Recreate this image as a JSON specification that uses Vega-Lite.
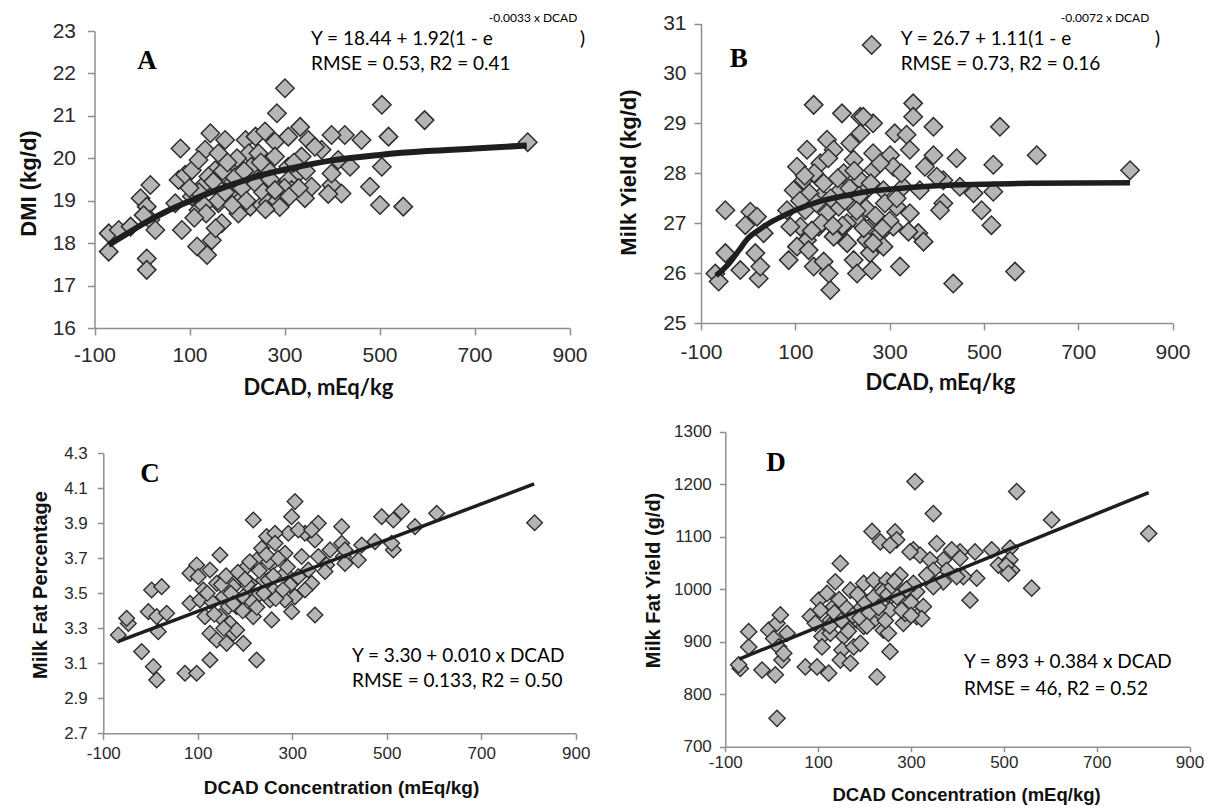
{
"$schema": "https://vega.github.io/schema/vega-lite/v6.json",
"padding": 0,
"background": "white",
"config": {"view": {"stroke": null}, "font": "Liberation Sans",
  "axis": {"grid": false, "labelFlush": false, "labelOverlap": false, "domainColor": "#8f8f8f", "domainWidth": 1.5, "tickColor": "#8f8f8f", "tickWidth": 1.5, "labelColor": "#2a2a2a", "labelFont": "Liberation Sans", "titleColor": "#111111", "titleFontWeight": "bold", "labelExpr": "replace(datum.label, '\u2212', '-')"}},
"datasets": {
"A": [{"x":-70,"y":18.23},{"x":-70,"y":17.8},{"x":-49,"y":18.31},{"x":-24,"y":18.39},{"x":-3,"y":19.06},{"x":17.6,"y":19.37},{"x":10,"y":18.86},{"x":17.6,"y":18.55},{"x":28,"y":18.31},{"x":10,"y":17.64},{"x":10,"y":17.37},{"x":3.5,"y":18.66},{"x":81,"y":20.23},{"x":84,"y":18.31},{"x":77,"y":19.49},{"x":70,"y":18.94},{"x":91,"y":19.61},{"x":116,"y":17.92},{"x":137,"y":17.72},{"x":147,"y":18.07},{"x":144,"y":20.59},{"x":133,"y":20.2},{"x":105,"y":19.72},{"x":119,"y":19.96},{"x":105,"y":19.1},{"x":126,"y":19.33},{"x":154,"y":19.72},{"x":161,"y":18.94},{"x":168,"y":18.47},{"x":175,"y":20.43},{"x":161,"y":20.12},{"x":189,"y":19.41},{"x":203,"y":19.72},{"x":210,"y":19.1},{"x":218,"y":20.43},{"x":225,"y":20.12},{"x":232,"y":19.64},{"x":203,"y":18.7},{"x":228,"y":18.86},{"x":239,"y":20.51},{"x":119,"y":18.78},{"x":182,"y":19.17},{"x":140,"y":19.57},
{"x":301,"y":21.65},{"x":284,"y":21.06},{"x":505,"y":21.26},{"x":595,"y":20.9},{"x":519,"y":20.51},{"x":427,"y":20.55},{"x":462,"y":20.43},{"x":505,"y":19.8},{"x":480,"y":19.33},{"x":501,"y":18.9},{"x":550,"y":18.86},{"x":420,"y":19.17},{"x":399,"y":19.37},{"x":438,"y":19.8},{"x":333,"y":20.74},{"x":350,"y":20.43},{"x":399,"y":20.55},{"x":378,"y":20.2},{"x":259,"y":20.63},{"x":280,"y":20.39},{"x":308,"y":20.51},{"x":357,"y":19.33},{"x":343,"y":19.06},{"x":273,"y":18.94},{"x":252,"y":18.9},{"x":322,"y":19.57},{"x":399,"y":19.64},{"x":308,"y":19.8},{"x":280,"y":20.04},{"x":245,"y":20.12},{"x":336,"y":20.04},{"x":413,"y":19.96},{"x":364,"y":20.27},{"x":280,"y":19.33},{"x":308,"y":19.49},{"x":248,"y":19.49},{"x":266,"y":19.72},{"x":294,"y":19.17},{"x":315,"y":19.25},{"x":812,"y":20.38},{"x":392,"y":19.16},
{"x":160,"y":19.0},{"x":175,"y":19.2},{"x":190,"y":18.9},{"x":210,"y":19.3},{"x":220,"y":19.0},{"x":240,"y":19.4},{"x":255,"y":19.2},{"x":265,"y":18.95},{"x":270,"y":19.5},{"x":285,"y":19.0},{"x":290,"y":18.85},{"x":300,"y":19.3},{"x":310,"y":19.1},{"x":230,"y":19.8},{"x":250,"y":19.9},{"x":195,"y":19.55},{"x":170,"y":19.7},{"x":150,"y":19.45},{"x":130,"y":18.9},{"x":120,"y":19.2},{"x":100,"y":19.3},{"x":135,"y":18.7},{"x":155,"y":18.35},{"x":110,"y":18.6},{"x":260,"y":18.8},{"x":280,"y":19.25},{"x":320,"y":19.9},{"x":330,"y":19.3},{"x":345,"y":19.7},{"x":200,"y":20.0},{"x":215,"y":19.7},{"x":180,"y":19.9}],
"Afit": [{"x":-70,"y":17.96},{"x":-35,"y":18.2},{"x":0,"y":18.44},{"x":50,"y":18.74},{"x":100,"y":18.99},{"x":150,"y":19.22},{"x":200,"y":19.42},{"x":250,"y":19.6},{"x":300,"y":19.73},{"x":400,"y":19.95},{"x":500,"y":20.08},{"x":600,"y":20.17},{"x":700,"y":20.23},{"x":810,"y":20.3}],
"B": [{"x":-69.6,"y":25.99},{"x":-62.5,"y":25.83},{"x":-48.4,"y":27.26},{"x":-48.4,"y":26.4},{"x":-16.6,"y":26.06},{"x":4.6,"y":27.23},{"x":18.8,"y":27.13},{"x":-6,"y":26.96},{"x":15.2,"y":26.4},{"x":22.3,"y":25.89},{"x":32.9,"y":26.8},{"x":25.8,"y":26.13},{"x":139,"y":29.37},{"x":199,"y":29.2},{"x":238,"y":29.13},{"x":86,"y":26.26},{"x":82.4,"y":27.26},{"x":103.6,"y":28.13},{"x":124.8,"y":28.47},{"x":117.7,"y":27.86},{"x":96.5,"y":27.66},{"x":110.7,"y":26.93},{"x":124.8,"y":26.66},{"x":103.6,"y":26.53},{"x":128.3,"y":26.46},{"x":139,"y":26.13},{"x":160.2,"y":26.23},{"x":174.3,"y":25.66},{"x":170.8,"y":25.99},{"x":153.1,"y":28.2},{"x":167.2,"y":28.67},{"x":181.4,"y":28.47},{"x":146,"y":27.93},{"x":153.1,"y":27.53},{"x":167.2,"y":27.2},{"x":188.4,"y":26.8},{"x":216.7,"y":28.6},{"x":223.8,"y":28.27},{"x":202.6,"y":28.0},{"x":195.5,"y":27.66},{"x":223.8,"y":27.33},{"x":230.9,"y":27.06},{"x":238,"y":28.8},{"x":209.6,"y":27.0},{"x":181.4,"y":26.73},{"x":223.8,"y":26.26},{"x":230.9,"y":25.99},{"x":121.3,"y":27.26},{"x":89.5,"y":26.93},{"x":149.6,"y":26.93},{"x":192,"y":27.33},{"x":238,"y":27.86},
{"x":350,"y":29.4},{"x":350,"y":29.13},{"x":265,"y":29.0},{"x":393,"y":28.93},{"x":311,"y":28.8},{"x":336,"y":28.77},{"x":244,"y":29.13},{"x":534,"y":28.93},{"x":612,"y":28.36},{"x":343,"y":28.47},{"x":442,"y":28.3},{"x":520,"y":28.17},{"x":265,"y":28.4},{"x":301,"y":28.36},{"x":393,"y":28.36},{"x":375,"y":28.13},{"x":308,"y":28.13},{"x":265,"y":28.06},{"x":449,"y":27.73},{"x":478,"y":27.6},{"x":520,"y":27.63},{"x":414,"y":27.86},{"x":400,"y":27.93},{"x":364,"y":27.66},{"x":329,"y":27.73},{"x":287,"y":27.66},{"x":414,"y":27.4},{"x":407,"y":27.26},{"x":343,"y":27.2},{"x":495,"y":27.26},{"x":516,"y":26.96},{"x":361,"y":26.8},{"x":340,"y":26.83},{"x":372,"y":26.63},{"x":308,"y":26.93},{"x":280,"y":26.8},{"x":251,"y":26.66},{"x":287,"y":26.53},{"x":322,"y":26.13},{"x":262,"y":26.06},{"x":435,"y":25.79},{"x":566,"y":26.03},{"x":258,"y":26.4},{"x":315,"y":27.33},{"x":273,"y":27.06},{"x":244,"y":27.6},{"x":262,"y":30.57},{"x":810,"y":28.06},
{"x":130,"y":27.6},{"x":145,"y":27.4},{"x":160,"y":27.8},{"x":175,"y":27.5},{"x":190,"y":27.9},{"x":205,"y":27.45},{"x":215,"y":27.7},{"x":235,"y":27.55},{"x":250,"y":27.3},{"x":260,"y":27.8},{"x":270,"y":27.15},{"x":280,"y":28.2},{"x":290,"y":27.4},{"x":300,"y":27.05},{"x":315,"y":27.5},{"x":325,"y":28.0},{"x":140,"y":28.0},{"x":155,"y":27.0},{"x":170,"y":28.3},{"x":200,"y":26.95},{"x":225,"y":28.05},{"x":245,"y":26.9},{"x":265,"y":26.6},{"x":285,"y":26.9},{"x":110,"y":27.45},{"x":120,"y":27.95},{"x":135,"y":26.85},{"x":180,"y":26.95},{"x":210,"y":26.6},{"x":230,"y":27.25}],
"Bfit": [{"x":-68,"y":25.95},{"x":-40,"y":26.2},{"x":-20,"y":26.45},{"x":0,"y":26.7},{"x":25,"y":26.88},{"x":50,"y":27.03},{"x":75,"y":27.15},{"x":100,"y":27.26},{"x":150,"y":27.43},{"x":200,"y":27.54},{"x":250,"y":27.63},{"x":300,"y":27.68},{"x":400,"y":27.75},{"x":500,"y":27.78},{"x":600,"y":27.8},{"x":810,"y":27.81}],
"C": [{"x":-68.2,"y":3.262},{"x":-47,"y":3.328},{"x":-50.6,"y":3.357},{"x":-18.8,"y":3.167},{"x":5.9,"y":3.081},{"x":13,"y":3.005},{"x":2.3,"y":3.519},{"x":23.5,"y":3.538},{"x":-4.7,"y":3.395},{"x":13,"y":3.367},{"x":16.4,"y":3.281},{"x":34.1,"y":3.386},{"x":72.9,"y":3.043},{"x":97.6,"y":3.043},{"x":125.8,"y":3.119},{"x":224.6,"y":3.119},{"x":217.5,"y":3.919},{"x":147,"y":3.719},{"x":83.5,"y":3.614},{"x":97.6,"y":3.662},{"x":101,"y":3.595},{"x":125.8,"y":3.633},{"x":140,"y":3.557},{"x":83.5,"y":3.443},{"x":104.6,"y":3.462},{"x":115.2,"y":3.367},{"x":125.8,"y":3.271},{"x":140,"y":3.233},{"x":161,"y":3.214},{"x":147,"y":3.367},{"x":168.1,"y":3.328},{"x":182.3,"y":3.424},{"x":196.4,"y":3.481},{"x":175.2,"y":3.538},{"x":189.3,"y":3.605},{"x":210.5,"y":3.557},{"x":203.4,"y":3.652},{"x":224.6,"y":3.69},{"x":235.2,"y":3.757},{"x":238.7,"y":3.576},{"x":196.4,"y":3.214},{"x":175.2,"y":3.271},{"x":217.5,"y":3.367},{"x":182.3,"y":3.29},{"x":154,"y":3.481},{"x":111.7,"y":3.519},{"x":164.6,"y":3.424},{"x":224.6,"y":3.481},{"x":245.8,"y":3.824},{"x":252.8,"y":3.462},
{"x":305.8,"y":4.024},{"x":298.7,"y":3.938},{"x":355.2,"y":3.9},{"x":404.6,"y":3.881},{"x":489.3,"y":3.938},{"x":514,"y":3.919},{"x":531.6,"y":3.967},{"x":605.7,"y":3.957},{"x":559.8,"y":3.881},{"x":514,"y":3.748},{"x":510.4,"y":3.786},{"x":475.1,"y":3.795},{"x":447,"y":3.776},{"x":439.9,"y":3.69},{"x":408.1,"y":3.71},{"x":404.6,"y":3.786},{"x":379.9,"y":3.748},{"x":348.1,"y":3.805},{"x":327,"y":3.843},{"x":291.7,"y":3.843},{"x":312.9,"y":3.862},{"x":341,"y":3.862},{"x":263.5,"y":3.843},{"x":263.5,"y":3.786},{"x":284.6,"y":3.729},{"x":319.9,"y":3.71},{"x":355.2,"y":3.71},{"x":372.8,"y":3.662},{"x":411.6,"y":3.671},{"x":312.9,"y":3.595},{"x":284.6,"y":3.614},{"x":256.4,"y":3.671},{"x":334,"y":3.633},{"x":369.3,"y":3.624},{"x":341.1,"y":3.557},{"x":295.2,"y":3.548},{"x":259.9,"y":3.519},{"x":305.8,"y":3.481},{"x":348.1,"y":3.376},{"x":298.7,"y":3.395},{"x":256.4,"y":3.348},{"x":249.4,"y":3.576},{"x":284.6,"y":3.462},{"x":327,"y":3.519},{"x":411.6,"y":3.748},{"x":813,"y":3.903},
{"x":130,"y":3.45},{"x":150,"y":3.55},{"x":160,"y":3.6},{"x":170,"y":3.5},{"x":185,"y":3.62},{"x":195,"y":3.4},{"x":205,"y":3.55},{"x":215,"y":3.45},{"x":230,"y":3.63},{"x":240,"y":3.5},{"x":250,"y":3.68},{"x":260,"y":3.6},{"x":270,"y":3.7},{"x":280,"y":3.52},{"x":290,"y":3.65},{"x":135,"y":3.38},{"x":155,"y":3.3},{"x":175,"y":3.44},{"x":200,"y":3.58},{"x":225,"y":3.42},{"x":245,"y":3.72},{"x":265,"y":3.47},{"x":120,"y":3.5},{"x":210,"y":3.68}],
"Cfit": [{"x":-68,"y":3.225},{"x":812,"y":4.125}],
"D": [{"x":-67.6,"y":849},{"x":-71.2,"y":856},{"x":-49.6,"y":890},{"x":-49.6,"y":919},{"x":-20.9,"y":846},{"x":-6.6,"y":922},{"x":4.2,"y":906},{"x":11.4,"y":935},{"x":15,"y":890},{"x":7.8,"y":837},{"x":22.2,"y":865},{"x":18.6,"y":951},{"x":33,"y":916},{"x":11.4,"y":754},{"x":25.8,"y":878},{"x":72.4,"y":852},{"x":97.6,"y":852},{"x":122.7,"y":840},{"x":83.2,"y":948},{"x":101.2,"y":979},{"x":104.8,"y":960},{"x":94,"y":935},{"x":108.3,"y":910},{"x":108.3,"y":890},{"x":126.3,"y":916},{"x":126.3,"y":941},{"x":137,"y":1014},{"x":147.8,"y":1049},{"x":133.5,"y":967},{"x":147.8,"y":954},{"x":155,"y":910},{"x":151.4,"y":884},{"x":147.8,"y":865},{"x":169.4,"y":859},{"x":176.6,"y":890},{"x":162.2,"y":929},{"x":183.7,"y":941},{"x":169.4,"y":998},{"x":190.9,"y":986},{"x":198.1,"y":1011},{"x":205.3,"y":973},{"x":216.1,"y":1110},{"x":234,"y":1090},{"x":219.7,"y":1017},{"x":234,"y":998},{"x":198.1,"y":929},{"x":219.7,"y":941},{"x":234,"y":954},{"x":190.9,"y":897},{"x":226.8,"y":833},{"x":212.5,"y":967},{"x":187.3,"y":960},{"x":119.1,"y":992},
{"x":308.7,"y":1205},{"x":527.7,"y":1186},{"x":348.2,"y":1144},{"x":603.1,"y":1132},{"x":265.6,"y":1109},{"x":355.4,"y":1087},{"x":438,"y":1071},{"x":473.9,"y":1075},{"x":513.4,"y":1078},{"x":405.6,"y":1071},{"x":387.7,"y":1075},{"x":305.1,"y":1075},{"x":319.5,"y":1065},{"x":269.2,"y":1094},{"x":254.8,"y":1084},{"x":298,"y":1071},{"x":369.7,"y":1056},{"x":341,"y":1056},{"x":405.6,"y":1059},{"x":513.4,"y":1056},{"x":517,"y":1036},{"x":488.2,"y":1046},{"x":441.6,"y":1021},{"x":412.8,"y":1024},{"x":376.9,"y":1036},{"x":348.2,"y":1036},{"x":333.8,"y":1027},{"x":369.7,"y":1014},{"x":398.5,"y":1024},{"x":560,"y":1002},{"x":427.2,"y":979},{"x":276.4,"y":1027},{"x":247.7,"y":1017},{"x":276.4,"y":998},{"x":312.3,"y":995},{"x":305.1,"y":1011},{"x":348.2,"y":1005},{"x":247.7,"y":979},{"x":290.7,"y":973},{"x":326.7,"y":967},{"x":312.3,"y":948},{"x":283.6,"y":935},{"x":254.8,"y":960},{"x":240.5,"y":922},{"x":251.3,"y":916},{"x":254.8,"y":881},{"x":287.2,"y":954},{"x":323.1,"y":944},{"x":812,"y":1106},{"x":505,"y":1045},{"x":510,"y":1030},
{"x":135,"y":955},{"x":150,"y":940},{"x":160,"y":965},{"x":175,"y":950},{"x":190,"y":945},{"x":200,"y":975},{"x":210,"y":955},{"x":220,"y":985},{"x":230,"y":965},{"x":240,"y":995},{"x":250,"y":990},{"x":260,"y":1005},{"x":270,"y":985},{"x":280,"y":960},{"x":290,"y":1000},{"x":300,"y":975},{"x":165,"y":920},{"x":185,"y":990},{"x":205,"y":930},{"x":245,"y":940},{"x":265,"y":1015},{"x":145,"y":980},{"x":125,"y":930},{"x":300,"y":950}],
"Dfit": [{"x":-70,"y":867},{"x":812,"y":1184}]
},
"concat": [
{"width": 605, "height": 405,
 "layer": [
  {"data": {"name": "A"}, "mark": {"type": "point", "shape": "diamond", "filled": true, "fill": "#b5b5b5", "stroke": "#2e2e2e", "strokeWidth": 1.5, "size": 340, "opacity": 1},
   "encoding": {
    "x": {"field": "x", "type": "quantitative", "scale": {"domain": [-100, 900], "range": [94.5, 569.5], "nice": false, "zero": false},
      "axis": {"values": [-100, 100, 300, 500, 700, 900], "format": "d", "offset": -77, "tickSize": 7, "labelPadding": 9, "labelFontSize": 21, "title": "DCAD, mEq/kg", "titleFont": "Lato", "titleFontSize": 22, "titleX": 318, "titleY": 66, "titleBaseline": "alphabetic"}},
    "y": {"field": "y", "type": "quantitative", "scale": {"domain": [16, 23], "range": [328, 31], "nice": false, "zero": false},
      "axis": {"values": [16, 17, 18, 19, 20, 21, 22, 23], "format": "d", "offset": -94.5, "tickSize": 7, "labelPadding": 12, "labelFontSize": 21, "title": "DMI (kg/d)", "titleFontSize": 22, "titleX": -66, "titleY": 183, "titleBaseline": "middle"}}}},
  {"data": {"name": "Afit"}, "mark": {"type": "line", "color": "#1e1e1e", "strokeWidth": 6, "interpolate": "monotone"},
   "encoding": {"x": {"field": "x", "type": "quantitative"}, "y": {"field": "y", "type": "quantitative"}}},
  {"data": {"values": [{"x": 10.5, "y": 22.29, "t": "A"}]}, "mark": {"type": "text", "font": "Liberation Serif", "fontWeight": "bold", "fontSize": 27, "align": "center", "baseline": "middle", "color": "#000"},
   "encoding": {"x": {"field": "x", "type": "quantitative"}, "y": {"field": "y", "type": "quantitative"}, "text": {"field": "t"}}},
  {"data": {"values": [{"x": 356, "y": 22.67, "t": "Y = 18.44 + 1.92(1 - e"}, {"x": 356, "y": 22.08, "t": "RMSE = 0.53, R2 = 0.41"}, {"x": 922, "y": 22.67, "t": ")"}]}, "mark": {"type": "text", "font": "Lato", "fontSize": 19, "align": "left", "baseline": "alphabetic", "color": "#000"},
   "encoding": {"x": {"field": "x", "type": "quantitative"}, "y": {"field": "y", "type": "quantitative"}, "text": {"field": "t"}}},
  {"data": {"values": [{"x": 730, "y": 23.21, "t": "-0.0033 x DCAD"}]}, "mark": {"type": "text", "font": "Lato", "fontSize": 12, "align": "left", "baseline": "alphabetic", "color": "#000"},
   "encoding": {"x": {"field": "x", "type": "quantitative"}, "y": {"field": "y", "type": "quantitative"}, "text": {"field": "t"}}}
 ]},
{"width": 605, "height": 405,
 "layer": [
  {"data": {"name": "B"}, "mark": {"type": "point", "shape": "diamond", "filled": true, "fill": "#b5b5b5", "stroke": "#2e2e2e", "strokeWidth": 1.5, "size": 340, "opacity": 1},
   "encoding": {
    "x": {"field": "x", "type": "quantitative", "scale": {"domain": [-100, 900], "range": [96, 567.5], "nice": false, "zero": false},
      "axis": {"values": [-100, 100, 300, 500, 700, 900], "format": "d", "offset": -82, "tickSize": 7, "labelPadding": 11, "labelFontSize": 21, "title": "DCAD, mEq/kg", "titleFont": "Lato", "titleFontSize": 22, "titleX": 335, "titleY": 66, "titleBaseline": "alphabetic"}},
    "y": {"field": "y", "type": "quantitative", "scale": {"domain": [25, 31], "range": [323, 23.5], "nice": false, "zero": false},
      "axis": {"values": [25, 26, 27, 28, 29, 30, 31], "format": "d", "offset": -96, "tickSize": 7, "labelPadding": 8, "labelFontSize": 21, "title": "Milk Yield (kg/d)", "titleFontSize": 22, "titleX": -73, "titleY": 172, "titleBaseline": "middle"}}}},
  {"data": {"name": "Bfit"}, "mark": {"type": "line", "color": "#1e1e1e", "strokeWidth": 5.5, "interpolate": "monotone"},
   "encoding": {"x": {"field": "x", "type": "quantitative"}, "y": {"field": "y", "type": "quantitative"}}},
  {"data": {"values": [{"x": -20, "y": 30.29, "t": "B"}]}, "mark": {"type": "text", "font": "Liberation Serif", "fontWeight": "bold", "fontSize": 27, "align": "center", "baseline": "middle", "color": "#000"},
   "encoding": {"x": {"field": "x", "type": "quantitative"}, "y": {"field": "y", "type": "quantitative"}, "text": {"field": "t"}}},
  {"data": {"values": [{"x": 323.5, "y": 30.57, "t": "Y = 26.7 + 1.11(1 - e"}, {"x": 323.5, "y": 30.07, "t": "RMSE = 0.73, R2 = 0.16"}, {"x": 863, "y": 30.57, "t": ")"}]}, "mark": {"type": "text", "font": "Lato", "fontSize": 19, "align": "left", "baseline": "alphabetic", "color": "#000"},
   "encoding": {"x": {"field": "x", "type": "quantitative"}, "y": {"field": "y", "type": "quantitative"}, "text": {"field": "t"}}},
  {"data": {"values": [{"x": 663, "y": 31.03, "t": "-0.0072 x DCAD"}]}, "mark": {"type": "text", "font": "Lato", "fontSize": 12, "align": "left", "baseline": "alphabetic", "color": "#000"},
   "encoding": {"x": {"field": "x", "type": "quantitative"}, "y": {"field": "y", "type": "quantitative"}, "text": {"field": "t"}}}
 ]},
{"width": 605, "height": 405,
 "layer": [
  {"data": {"name": "C"}, "mark": {"type": "point", "shape": "diamond", "filled": true, "fill": "#b5b5b5", "stroke": "#2e2e2e", "strokeWidth": 1.4, "size": 245, "opacity": 1},
   "encoding": {
    "x": {"field": "x", "type": "quantitative", "scale": {"domain": [-100, 900], "range": [103.3, 575.7], "nice": false, "zero": false},
      "axis": {"values": [-100, 100, 300, 500, 700, 900], "format": "d", "offset": -76.7, "tickSize": 6, "labelPadding": 6, "labelFontSize": 17, "title": "DCAD Concentration (mEq/kg)", "titleFontSize": 19, "titleX": 341, "titleY": 60, "titleBaseline": "alphabetic"}},
    "y": {"field": "y", "type": "quantitative", "scale": {"domain": [2.7, 4.3], "range": [328.3, 48.3], "nice": false, "zero": false},
      "axis": {"values": [2.7, 2.9, 3.1, 3.3, 3.5, 3.7, 3.9, 4.1, 4.3], "format": ".1f", "offset": -103.3, "tickSize": 6, "labelPadding": 10, "labelFontSize": 17, "title": "Milk Fat Percentage", "titleFontSize": 20, "titleX": -63.3, "titleY": 179.5, "titleBaseline": "middle"}}}},
  {"data": {"name": "Cfit"}, "mark": {"type": "line", "color": "#1e1e1e", "strokeWidth": 3.5},
   "encoding": {"x": {"field": "x", "type": "quantitative"}, "y": {"field": "y", "type": "quantitative"}}},
  {"data": {"values": [{"x": -1, "y": 4.18, "t": "C"}]}, "mark": {"type": "text", "font": "Liberation Serif", "fontWeight": "bold", "fontSize": 27, "align": "center", "baseline": "middle", "color": "#000"},
   "encoding": {"x": {"field": "x", "type": "quantitative"}, "y": {"field": "y", "type": "quantitative"}, "text": {"field": "t"}}},
  {"data": {"values": [{"x": 426.5, "y": 3.109, "t": "Y = 3.30 + 0.010 x DCAD"}, {"x": 426.5, "y": 2.966, "t": "RMSE = 0.133, R2 = 0.50"}]}, "mark": {"type": "text", "font": "Lato", "fontSize": 19, "align": "left", "baseline": "alphabetic", "color": "#000"},
   "encoding": {"x": {"field": "x", "type": "quantitative"}, "y": {"field": "y", "type": "quantitative"}, "text": {"field": "t"}}}
 ]},
{"width": 605, "height": 405,
 "layer": [
  {"data": {"name": "D"}, "mark": {"type": "point", "shape": "diamond", "filled": true, "fill": "#b5b5b5", "stroke": "#2e2e2e", "strokeWidth": 1.4, "size": 265, "opacity": 1},
   "encoding": {
    "x": {"field": "x", "type": "quantitative", "scale": {"domain": [-100, 900], "range": [120.3, 584.5], "nice": false, "zero": false},
      "axis": {"values": [-100, 100, 300, 500, 700, 900], "format": "d", "offset": -63.3, "tickSize": 5, "labelPadding": 3, "labelFontSize": 17, "title": "DCAD Concentration (mEq/kg)", "titleFontSize": 18.5, "titleX": 361, "titleY": 54, "titleBaseline": "alphabetic"}},
    "y": {"field": "y", "type": "quantitative", "scale": {"domain": [700, 1300], "range": [341.7, 26.7], "nice": false, "zero": false},
      "axis": {"values": [700, 800, 900, 1000, 1100, 1200, 1300], "format": "d", "offset": -120.3, "tickSize": 6, "labelPadding": 8, "labelFontSize": 17, "title": "Milk Fat Yield (g/d)", "titleFontSize": 20, "titleX": -71.8, "titleY": 175, "titleBaseline": "middle"}}}},
  {"data": {"name": "Dfit"}, "mark": {"type": "line", "color": "#1e1e1e", "strokeWidth": 3.5},
   "encoding": {"x": {"field": "x", "type": "quantitative"}, "y": {"field": "y", "type": "quantitative"}}},
  {"data": {"values": [{"x": 9, "y": 1241, "t": "D"}]}, "mark": {"type": "text", "font": "Liberation Serif", "fontWeight": "bold", "fontSize": 27, "align": "center", "baseline": "middle", "color": "#000"},
   "encoding": {"x": {"field": "x", "type": "quantitative"}, "y": {"field": "y", "type": "quantitative"}, "text": {"field": "t"}}},
  {"data": {"values": [{"x": 414, "y": 849.3, "t": "Y = 893 + 0.384 x DCAD"}, {"x": 414, "y": 798.5, "t": "RMSE = 46, R2 = 0.52"}]}, "mark": {"type": "text", "font": "Lato", "fontSize": 19, "align": "left", "baseline": "alphabetic", "color": "#000"},
   "encoding": {"x": {"field": "x", "type": "quantitative"}, "y": {"field": "y", "type": "quantitative"}, "text": {"field": "t"}}}
 ]}
],
"columns": 2,
"spacing": 0,
"bounds": "flush"
}
